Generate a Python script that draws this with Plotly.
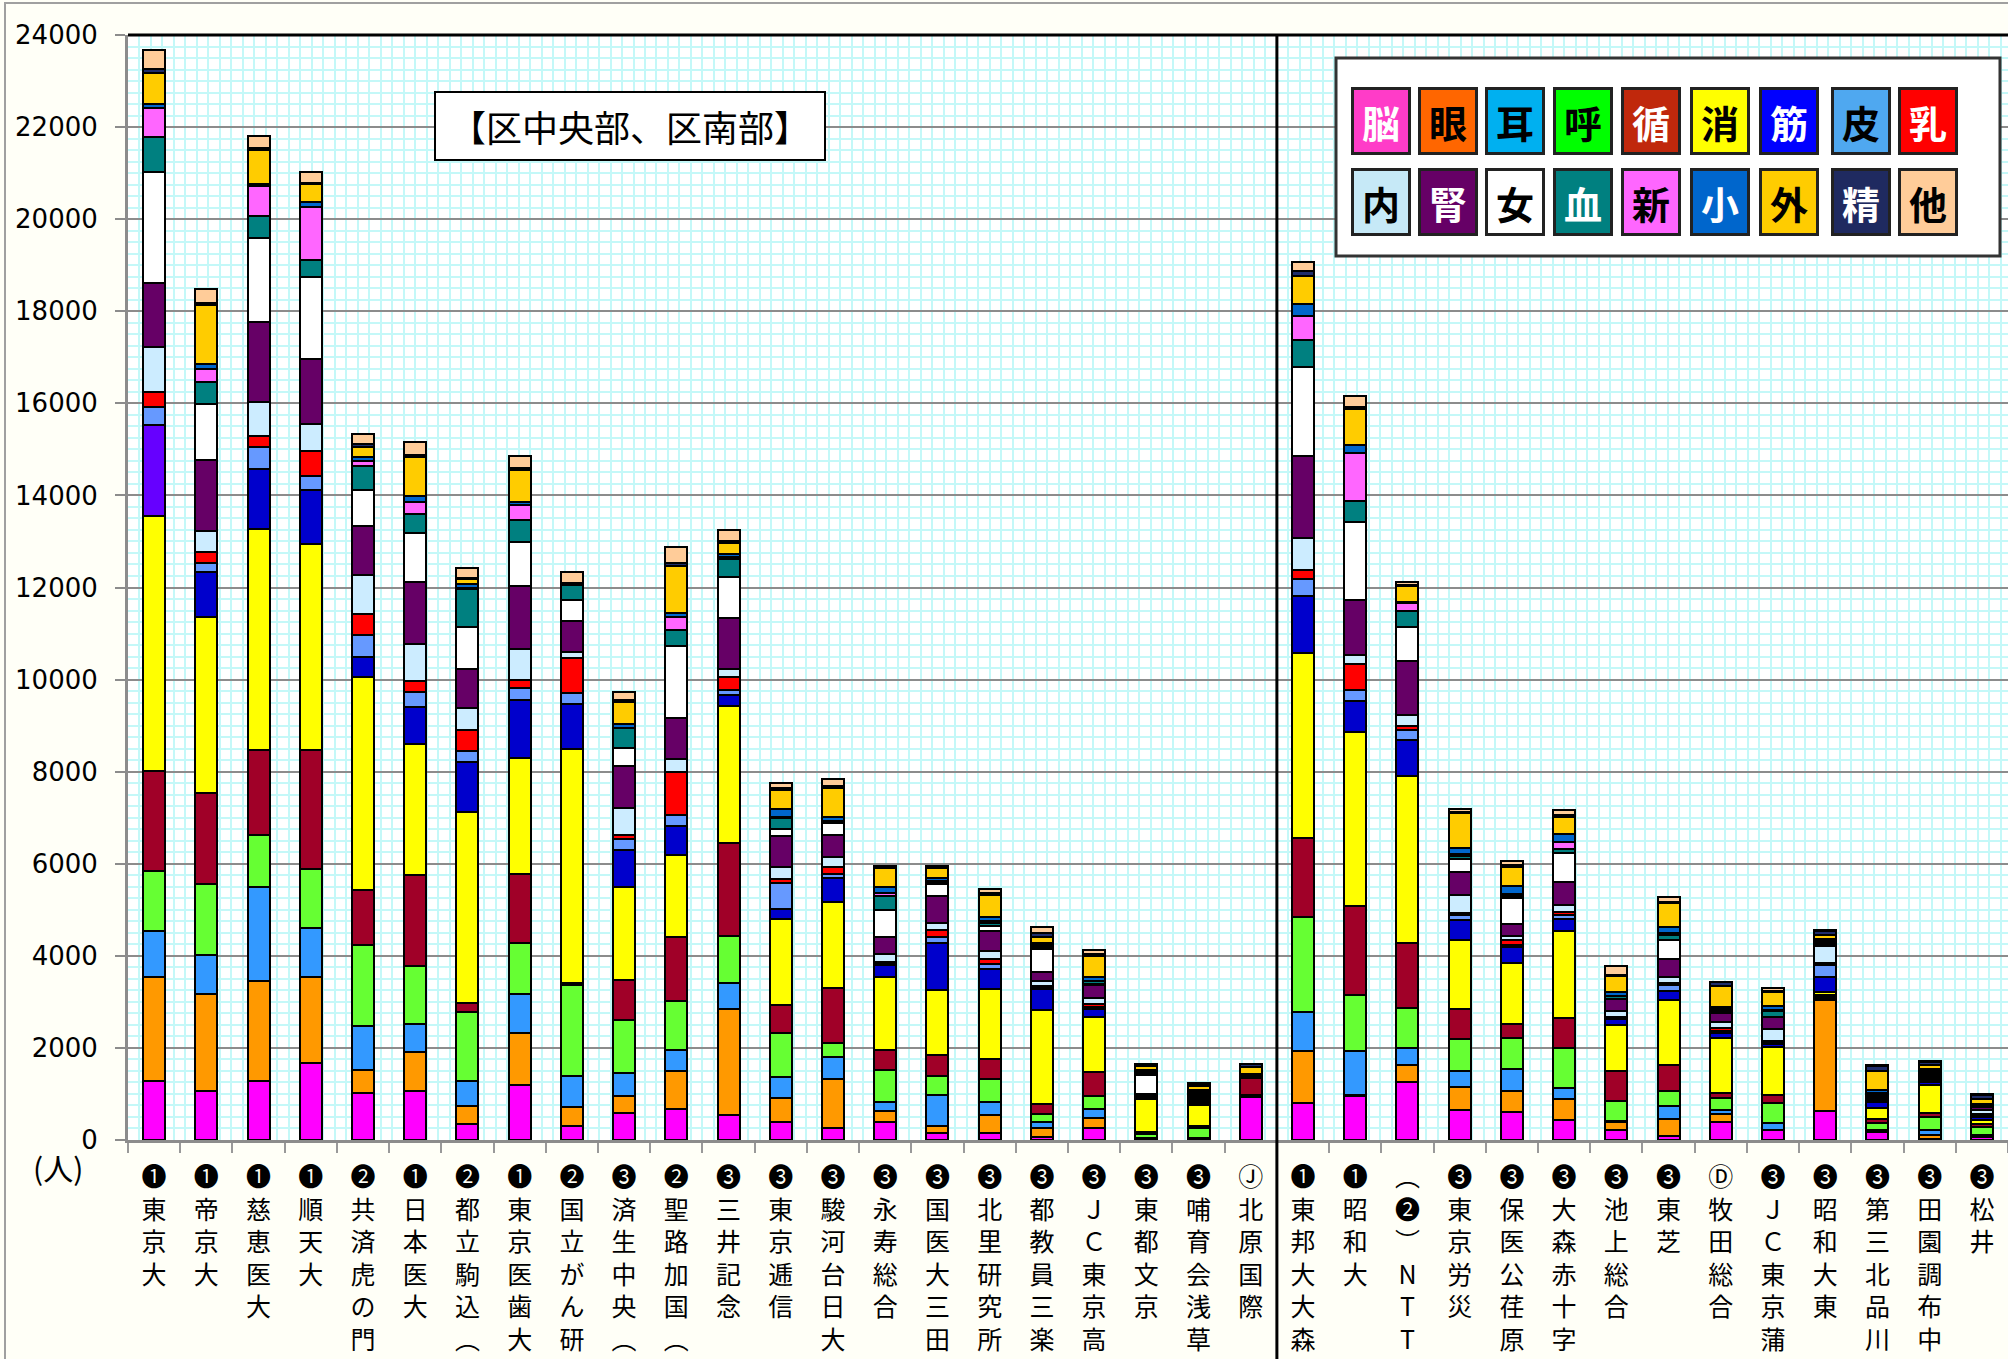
import plotly.graph_objects as go

# hospitals, left to right (circled mark = hospital class)
hospitals = ["❶東京大", "❶帝京大", "❶慈恵医大", "❶順天大", "❷共済虎の門", "❶日本医大",
             "❷都立駒込︵3︶", "❶東京医歯大", "❷国立がん研", "❸済生中央︵2︶", "❷聖路加国︵3︶",
             "❸三井記念", "❸東京逓信", "❸駿河台日大", "❸永寿総合", "❸国医大三田", "❸北里研究所",
             "❸都教員三楽", "❸ＪＣ東京高輪", "❸東都文京", "❸哺育会浅草", "Ⓙ北原国際",
             "❶東邦大大森", "❶昭和大", "︵❷︶NTT関東", "❸東京労災", "❸保医公荏原", "❸大森赤十字",
             "❸池上総合", "❸東芝", "Ⓓ牧田総合", "❸ＪＣ東京蒲田", "❸昭和大東", "❸第三北品川",
             "❸田園調布中", "❸松井"]

departments = ["脳", "眼", "耳", "呼", "循", "消", "筋", "皮", "乳",
               "内", "腎", "女", "血", "新", "小", "外", "精", "他"]

# patients per department (人), one value per hospital
brain = [1280, 1070, 1280, 1675, 1020, 1060, 350, 1200, 310, 590, 675, 545, 400, 255, 400, 160, 160, 70,
         250, 20, 20, 940, 810, 960, 1250, 650, 600, 440, 220, 90, 400, 215, 630, 170, 30, 70]
eye = [2270, 2100, 2175, 1870, 510, 845, 385, 1120, 410, 375, 830, 2295, 505, 1080, 240, 150, 380, 180,
       230, 15, 20, 10, 1125, 10, 375, 500, 460, 460, 180, 360, 170, 10, 2410, 20, 80, 20]
ear = [980, 845, 2050, 1070, 940, 610, 550, 850, 675, 480, 440, 570, 470, 470, 180, 665, 275, 145,
       200, 15, 10, 10, 850, 965, 375, 350, 475, 225, 10, 290, 80, 140, 20, 20, 110, 20]
resp = [1320, 1545, 1115, 1270, 1770, 1260, 1490, 1110, 1970, 1160, 1080, 1015, 940, 310, 700, 410, 520, 180,
        275, 70, 220, 10, 2050, 1225, 875, 690, 690, 875, 430, 330, 270, 430, 40, 170, 290, 170]
circ = [2160, 1985, 1840, 2580, 1190, 1980, 200, 1500, 40, 875, 1375, 2015, 615, 1185, 435, 470, 435, 215,
        520, 60, 40, 380, 1725, 1925, 1400, 650, 300, 650, 660, 555, 110, 180, 50, 70, 80, 60]
digest = [5550, 3825, 4800, 4470, 4630, 2850, 4140, 2515, 5080, 2015, 1795, 2980, 1865, 1860, 1590, 1395, 1515, 2035,
          1205, 720, 450, 20, 4025, 3775, 3625, 1500, 1310, 1885, 1000, 1410, 1180, 1050, 60, 250, 610, 100]
muscle = [1960, 970, 1320, 1190, 430, 810, 1095, 1270, 990, 805, 615, 235, 230, 525, 250, 1025, 435, 455,
          170, 40, 40, 10, 1225, 675, 785, 440, 350, 275, 130, 200, 120, 50, 340, 130, 60, 50]
skin = [390, 195, 465, 300, 470, 325, 235, 245, 240, 245, 245, 115, 555, 100, 40, 130, 110, 45,
        40, 20, 30, 0, 375, 240, 225, 100, 40, 80, 20, 135, 40, 40, 260, 30, 40, 40]
breast = [330, 230, 235, 530, 475, 240, 465, 175, 745, 90, 940, 280, 80, 145, 30, 165, 110, 30,
          60, 10, 20, 0, 190, 560, 90, 60, 110, 60, 20, 35, 60, 40, 30, 20, 30, 40]
endo = [980, 465, 750, 605, 845, 795, 465, 690, 150, 585, 280, 175, 280, 215, 180, 135, 175, 90,
        130, 20, 50, 10, 690, 200, 225, 375, 100, 150, 135, 130, 133, 260, 370, 30, 40, 90]
kidney = [1400, 1550, 1730, 1395, 1045, 1340, 850, 1360, 665, 900, 885, 1120, 670, 470, 360, 600, 435, 210,
          290, 20, 40, 10, 1790, 1190, 1185, 500, 250, 500, 250, 400, 200, 255, 40, 50, 40, 50]
female = [2400, 1210, 1840, 1780, 790, 1060, 920, 945, 450, 400, 1570, 880, 145, 260, 590, 250, 90, 500,
          10, 400, 40, 10, 1925, 1690, 740, 280, 565, 625, 10, 410, 30, 10, 30, 20, 30, 20]
blood = [760, 470, 465, 370, 525, 430, 815, 480, 335, 420, 350, 390, 240, 30, 305, 50, 70, 40,
         70, 50, 40, 0, 600, 460, 350, 70, 40, 85, 60, 100, 40, 130, 30, 30, 40, 20]
newborn = [640, 290, 660, 1160, 115, 250, 20, 330, 0, 10, 270, 50, 10, 20, 70, 30, 40, 30,
           10, 20, 20, 0, 525, 1040, 160, 40, 50, 160, 10, 50, 20, 20, 20, 20, 20, 20]
child = [90, 100, 40, 100, 80, 140, 90, 60, 10, 80, 105, 60, 180, 100, 125, 60, 100, 60,
         85, 40, 40, 20, 260, 190, 20, 140, 170, 180, 75, 125, 40, 90, 30, 50, 50, 20]
surgery = [670, 1290, 735, 400, 215, 850, 115, 700, 10, 480, 1020, 250, 410, 620, 410, 210, 480, 130,
           450, 80, 100, 160, 610, 770, 355, 750, 425, 375, 350, 527, 455, 300, 100, 420, 75, 100]
psych = [80, 30, 55, 30, 70, 40, 20, 50, 20, 40, 50, 30, 40, 40, 40, 35, 25, 90,
         40, 40, 40, 70, 90, 40, 20, 30, 40, 25, 20, 30, 90, 10, 90, 100, 60, 90]
other = [410, 320, 255, 235, 215, 270, 220, 250, 230, 175, 350, 240, 125, 145, 15, 15, 95, 115,
         100, 20, 20, 0, 200, 250, 70, 60, 85, 125, 200, 95, 0, 80, 10, 20, 25, 30]

series = [brain, eye, ear, resp, circ, digest, muscle, skin, breast,
          endo, kidney, female, blood, newborn, child, surgery, psych, other]

bar_colors = ["#FF00FF", "#FF9900", "#3399FF", "#66FF33", "#A00028", "#FFFF00", "#0000CC", "#6699FF", "#FF0000",
              "#CCECFF", "#660066", "#FFFFFF", "#008080", "#FF66FF", "#0066CC", "#FFCC00", "#1F2D6B", "#FFCC99"]
legend_colors = ["#FF3CC8", "#FF6600", "#00B0F0", "#00FF00", "#C0280C", "#FFFF00", "#0000FF", "#4FA8F0", "#FF0000",
                 "#C6E9F7", "#660066", "#FFFFFF", "#008080", "#FF66FF", "#0066CC", "#FFCC00", "#1F2A60", "#FFCC99"]
white_text = {"脳", "循", "筋", "乳", "腎", "血", "小", "精"}

idx = list(range(len(hospitals)))
vertical_labels = ["<br>".join(list(h)) for h in hospitals]

# plot area in pixels
L, R, T, B = 128, 2008, 35, 1140


def px_x(px):
    return (px - L) / (R - L)


def px_y(py):
    return (B - py) / (B - T)


fig = go.Figure()
for name, vals, col in zip(departments, series, bar_colors):
    colors = [col] * len(idx)
    if name == "筋":
        colors[0] = "#6600FF"  # 東京大 drawn in violet
    fig.add_trace(go.Bar(x=idx, y=vals, name=name,
                         marker=dict(color=colors, line=dict(color="black", width=2)),
                         showlegend=False))

# dummy trace so the boundary-tick axis gets drawn
fig.add_trace(go.Scatter(x=[None], y=[None], xaxis="x2", showlegend=False, hoverinfo="skip"))

grid_cyan = "#C4F8F8"
fig.update_layout(
    width=2008, height=1359,
    margin=dict(l=L, r=2008 - R, t=T, b=1359 - B),
    barmode="stack", bargap=0.58,
    paper_bgcolor="#FFFFF7", plot_bgcolor="white",
    xaxis=dict(range=[-0.5, 35.5], tickmode="array", tickvals=idx, ticktext=vertical_labels,
               tickangle=0, ticks="", showgrid=False, zeroline=False, showline=False,
               ticklabelstandoff=20, automargin=False,
               tickfont=dict(family="Noto Sans CJK JP", size=25, color="black"),
               minor=dict(tickmode="linear", tick0=-0.5, dtick=0.22, showgrid=True,
                          gridcolor=grid_cyan, gridwidth=1.5, ticks="")),
    xaxis2=dict(overlaying="x", anchor="y", side="bottom", range=[-0.5, 35.5], automargin=False,
                tickmode="linear", tick0=-0.5, dtick=1, ticks="outside", ticklen=10, tickwidth=2,
                tickcolor="#999999", showticklabels=False, showgrid=False, zeroline=False,
                showline=True, linecolor="#8C8C8C", linewidth=3),
    yaxis=dict(range=[0, 24000], dtick=2000, tickformat="d", showgrid=True, gridcolor="#8C8C8C", gridwidth=2,
               showline=True, linecolor="#8C8C8C", linewidth=3, zeroline=False, automargin=False,
               ticks="outside", ticklen=10, tickwidth=2, tickcolor="#8C8C8C", ticklabelstandoff=12,
               tickfont=dict(family="DejaVu Sans", size=26, color="black"),
               minor=dict(dtick=250, showgrid=True, gridcolor=grid_cyan, gridwidth=1.5, ticks="")),
)

shapes = [
    # outer frame
    dict(type="rect", xref="paper", yref="paper", x0=px_x(5), x1=px_x(2030), y0=px_y(1400), y1=px_y(3),
         line=dict(color="#A0A0A0", width=2), layer="below"),
    # top border of plot
    dict(type="line", xref="paper", yref="paper", x0=0, x1=1, y0=1, y1=1, line=dict(color="black", width=3)),
    # divider between the two areas
    dict(type="line", xref="x", yref="paper", x0=21.5, x1=21.5, y0=px_y(1360), y1=1,
         line=dict(color="black", width=3)),
    # legend frame
    dict(type="rect", xref="paper", yref="paper", x0=px_x(1336), x1=px_x(2000), y0=px_y(256), y1=px_y(58),
         fillcolor="white", line=dict(color="#333333", width=3)),
]

annotations = [
    dict(text="【区中央部、区南部】", xref="paper", yref="paper", x=px_x(630), y=px_y(126),
         xanchor="center", yanchor="middle",
         showarrow=False, font=dict(family="Noto Sans CJK JP", size=36, color="black"),
         bgcolor="white", bordercolor="black", borderwidth=2, borderpad=6, width=376, height=54),
    dict(text="(人)", xref="paper", yref="paper", x=px_x(58), y=px_y(1167), showarrow=False,
         xanchor="center", yanchor="middle",
         font=dict(family="Noto Sans CJK JP", size=30, color="black")),
]

col_x = [1381, 1448, 1515, 1583, 1651, 1720, 1789, 1861, 1928]
row_y = [121, 202]
for i, (name, col) in enumerate(zip(departments, legend_colors)):
    r, c = divmod(i, 9)
    annotations.append(dict(
        text="<b>%s</b>" % name, xref="paper", yref="paper", x=px_x(col_x[c]), y=px_y(row_y[r]),
        xanchor="center", yanchor="middle",
        showarrow=False, width=54, height=62, borderpad=0, bgcolor=col,
        bordercolor="#222222", borderwidth=3,
        font=dict(family="Noto Sans CJK JP", size=38, color="white" if name in white_text else "black")))

fig.update_layout(shapes=shapes, annotations=annotations)

fig.write_html("out.html", config={"displayModeBar": False},
               post_script="document.body.style.margin='0px';")
